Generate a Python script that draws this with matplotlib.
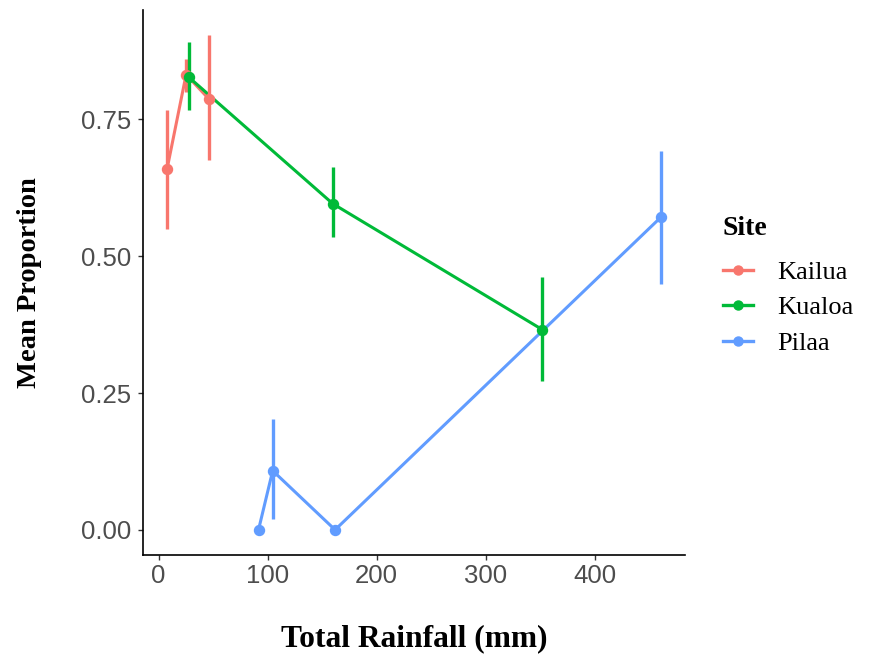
import matplotlib
matplotlib.use("Agg")
import matplotlib.pyplot as plt
from matplotlib.lines import Line2D

sites = ["Kailua", "Kualoa", "Pilaa"]
colors = {"Kailua": "#F8766D", "Kualoa": "#00BA38", "Pilaa": "#619CFF"}

kailua_x = [7.7, 25.2, 45.8]
kailua_y = [0.659, 0.832, 0.788]
kailua_lo = [0.549, 0.80, 0.675]
kailua_hi = [0.768, 0.86, 0.905]

kualoa_x = [27.8, 159.7, 351.7]
kualoa_y = [0.827, 0.596, 0.366]
kualoa_lo = [0.768, 0.535, 0.272]
kualoa_hi = [0.891, 0.663, 0.462]

pilaa_x = [91.6, 104.6, 161.8, 460.4]
pilaa_y = [0.0, 0.108, 0.0, 0.571]
pilaa_lo = [0.0, 0.0195, 0.0, 0.450]
pilaa_hi = [0.0, 0.202, 0.0, 0.692]

data = {
    "Kailua": (kailua_x, kailua_y, kailua_lo, kailua_hi),
    "Kualoa": (kualoa_x, kualoa_y, kualoa_lo, kualoa_hi),
    "Pilaa": (pilaa_x, pilaa_y, pilaa_lo, pilaa_hi),
}

xticks = [0, 100, 200, 300, 400]
yticks = [0.0, 0.25, 0.5, 0.75]
ytick_labels = ["0.00", "0.25", "0.50", "0.75"]

fig = plt.figure(figsize=(8.7, 6.54), dpi=100)
ax = fig.add_axes([0.1644, 0.1514, 0.7874 - 0.1644, 0.9847 - 0.1514])

for s in sites:
    x, y, lo, hi = data[s]
    ax.plot(x, y, color=colors[s], lw=2.2, zorder=2)
for s in sites:
    x, y, lo, hi = data[s]
    ax.vlines(x, lo, hi, color=colors[s], lw=2.4, zorder=3)
    ax.plot(x, y, 'o', color=colors[s], ms=7.2, zorder=4)

ax.set_xlim(-14.3, 482.7)
ax.set_ylim(-0.046, 0.95)
ax.set_xticks(xticks)
ax.set_xticklabels([str(t) for t in xticks])
ax.set_yticks(yticks)
ax.set_yticklabels(ytick_labels)

for sp in ["top", "right"]:
    ax.spines[sp].set_visible(False)
for sp in ["left", "bottom"]:
    ax.spines[sp].set_color("black")
    ax.spines[sp].set_linewidth(1.2)

ax.tick_params(axis="both", colors="#333333", length=3.5, width=1,
               labelsize=18.5, labelcolor="#4D4D4D", pad=3)
ax.tick_params(axis="y", pad=5)
for lab in ax.get_xticklabels() + ax.get_yticklabels():
    lab.set_fontfamily("Liberation Sans")

ax.set_xlabel("Total Rainfall (mm)", fontfamily="Liberation Serif",
              fontweight="bold", fontsize=22.7, labelpad=26)
ax.set_ylabel("Mean Proportion", fontfamily="Liberation Serif",
              fontweight="bold", fontsize=20.5, labelpad=28)

handles = [Line2D([0], [0], color=colors[s], lw=2.4, marker='o', ms=6.5)
           for s in sites]
leg = fig.legend(handles, sites, loc="upper left", bbox_to_anchor=(0.831, 0.670),
                 frameon=False, title="Site",
                 prop={"family": "Liberation Serif", "size": 19},
                 title_fontproperties={"family": "Liberation Serif",
                                       "weight": "bold", "size": 20},
                 handlelength=1.15, labelspacing=0.46, handletextpad=0.9,
                 borderaxespad=0, borderpad=0)
leg._legend_box.align = "left"
leg._legend_box.sep = 14

fig.savefig("out.png", dpi=100, facecolor="white")
